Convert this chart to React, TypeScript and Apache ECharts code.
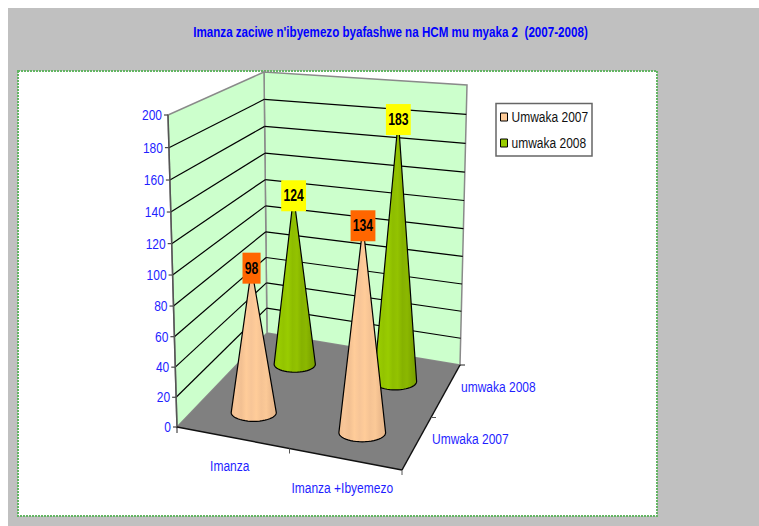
import React, { useEffect, useRef } from "react";
import * as echarts from "echarts";

const titleText = "Imanza zaciwe n'ibyemezo byafashwe na HCM mu myaka 2  (2007-2008)";
const categories = ["Imanza", "Imanza +Ibyemezo"];
const depthNames = ["Umwaka 2007", "umwaka 2008"];
const values2007 = [98, 134];
const values2008 = [124, 183];
const yTicks = [0, 20, 40, 60, 80, 100, 120, 140, 160, 180, 200];

const FONT = '"Liberation Sans", Arial, sans-serif';
const BLUE = "#1f1fff";
const G = { left: 177, top: 115, w: 225, h: 312 };

type P = [number, number];
const C: Record<string, P> = {
  FL0: [177, 427], FR0: [402, 470], BL0: [267, 333], BR0: [460, 365],
  FL1: [168, 115], FR1: [405, 135], BL1: [264, 72], BR1: [467, 85],
};
const mix = (a: P, b: P, t: number): P => [a[0] + (b[0] - a[0]) * t, a[1] + (b[1] - a[1]) * t];
const warp = (v: number) => v / (1.053 - 0.053 * v);
function proj(x: number, v: number, z: number): P {
  const f0 = mix(C.FL0, C.FR0, x), b0 = mix(C.BL0, C.BR0, x);
  const f1 = mix(C.FL1, C.FR1, x), b1 = mix(C.BL1, C.BR1, x);
  return mix(mix(f0, b0, z), mix(f1, b1, z), warp(v));
}
const norm = (p: number[]) => [(p[0] - G.left) / G.w, (G.top + G.h - p[1]) / G.h];
const poly = (points: P[], style: any, z2 = 0) => ({ type: "polygon", shape: { points }, style, z2 });
const line = (a: P, b: P, stroke: string, lineWidth = 1) => ({
  type: "line",
  shape: { x1: a[0], y1: a[1], x2: b[0], y2: b[1] },
  style: { stroke, lineWidth, fill: "none" },
});
const label = (x: number, y: number, text: string, align: string) => ({
  type: "text", x, y, scaleX: 0.8,
  style: { text, fill: BLUE, font: `15px ${FONT}`, align, verticalAlign: "middle" },
});

function stripes(colors: string[]) {
  const stops: any[] = [];
  colors.forEach((c, i) => stops.push({ offset: i / (colors.length - 1), color: c }));
  return new echarts.graphic.LinearGradient(0, 0, 1, 0, stops);
}
const peach = ["#F0BE90", "#F8C698", "#F2C092", "#FFCC99", "#F7C597", "#FFCC99", "#F5C394", "#FBC997", "#EDBB8D", "#E9B88A"];
const green = ["#8FBF00", "#99CC00", "#93C400", "#99CC00", "#8EBD00", "#93C300", "#86B200", "#8BB800", "#7FA800", "#789F00"];

function coneRender(depthIndex: number, fill: any, boxColor: string) {
  return (params: any, api: any) => {
    const c = norm(api.coord([api.value(0), api.value(1)]));
    const z = (depthIndex + 0.5) / depthNames.length;
    const base = proj(c[0], 0, z);
    const apex = proj(c[0], c[1], z);
    const H = base[1] - proj(c[0], 1, z)[1];
    const rx = 0.074 * H;
    const ry = rx * 0.39;
    const cy = base[1] - 1;
    const pts: P[] = [apex];
    for (let i = 0; i <= 24; i++) {
      const a = Math.PI - (Math.PI * i) / 24;
      pts.push([base[0] + rx * Math.cos(a), cy + ry * Math.sin(a)]);
    }
    return {
      type: "group",
      children: [
        poly(pts, { fill, stroke: "#000", lineWidth: 1.2 }),
        {
          type: "text",
          x: apex[0],
          y: apex[1],
          z2: 10,
          scaleX: 0.76,
          style: {
            text: String(api.value(1)),
            fill: "#000",
            font: `bold 16px ${FONT}`,
            align: "center",
            verticalAlign: "middle",
            backgroundColor: boxColor,
            padding: [8, 3, 7, 3],
          },
        },
      ],
    };
  };
}

const legendSwatches = ["#FFCC99", "#99CC00"];

export default function App() {
  const ref = useRef<HTMLDivElement>(null);
  useEffect(() => {
    const chart = echarts.init(ref.current!, null, { renderer: "svg" });
    chart.setOption({
      animation: false,
      graphic: [
        { type: "rect", z: -2, shape: { x: 8, y: 8, width: 751, height: 518 }, style: { fill: "#C0C0C0" } },
        {
          type: "rect", z: -1,
          shape: { x: 18, y: 71, width: 639, height: 445 },
          style: { fill: "#fff", stroke: "#63B563", lineWidth: 2, lineDash: [2, 1] },
        },
        {
          type: "text", z: 1, x: 390.5, y: 32, scaleX: 0.775,
          style: { text: titleText, fill: "#0000ff", font: `bold 15px ${FONT}`, align: "center", verticalAlign: "middle" },
        },
        {
          type: "rect", z: 1,
          shape: { x: 496, y: 103.5, width: 96, height: 52.5 },
          style: { fill: "#fff", stroke: "#666", lineWidth: 1.5 },
        },
        ...depthNames.flatMap((name, i) => [
          {
            type: "rect", z: 1,
            shape: { x: 500.5, y: 113 + i * 26, width: 7, height: 8 },
            style: { fill: legendSwatches[i], stroke: "#000", lineWidth: 1 },
          },
          {
            type: "text", z: 1, x: 511.5, y: 117.5 + i * 26, scaleX: 0.8,
            style: { text: name, fill: "#111", font: `15px ${FONT}`, align: "left", verticalAlign: "middle" },
          },
        ]),
      ],
      grid: { left: G.left, top: G.top, width: G.w, height: G.h },
      xAxis: { type: "category", data: categories, show: false },
      yAxis: { type: "value", min: 0, max: 200, interval: 20, show: false },
      series: [
        {
          name: "walls",
          type: "custom",
          silent: true,
          clip: false,
          data: [[0, 0]],
          renderItem: () => ({
            type: "group",
            children: [
              poly([C.BL0, C.BR0, C.BR1, C.BL1], { fill: "#CCFFCC", stroke: "#8A8A8A", lineWidth: 1.5 }),
              poly([C.FL0, C.BL0, C.BL1, C.FL1], { fill: "#CCFFCC", stroke: "#8A8A8A", lineWidth: 1.5 }),
            ],
          }),
        },
        {
          name: "grid",
          type: "custom",
          silent: true,
          clip: false,
          data: yTicks.map((t) => [0, t]),
          renderItem: (_: any, api: any) => {
            const v = norm(api.coord([0, api.value(1)]))[1];
            const a = proj(0, v, 0), b = proj(0, v, 1), c = proj(1, v, 1);
            return {
              type: "group",
              children: [
                ...(v > 0 && v < 1 ? [line(a, b, "#000", 1.2), line(b, c, "#000", 1.2)] : []),
                line([a[0] - 4, a[1]], a, "#222"),
                label(a[0] - 6, a[1], String(api.value(1)), "right"),
              ],
            };
          },
        },
        {
          name: "floor",
          type: "custom",
          silent: true,
          clip: false,
          data: [[0, 0]],
          renderItem: () => ({
            type: "group",
            children: [
              poly([C.FL0, C.FR0, C.BR0, C.BL0], { fill: "#808080" }),
              line(C.FL1, C.FL0, "#555", 1.5),
              line(C.FL0, C.FR0, "#111", 1.5),
              line(C.FR0, C.BR0, "#111", 1.5),
              line(C.FL0, [C.FL0[0], C.FL0[1] + 6], "#222"),
              line(proj(0.5, 0, 0), [proj(0.5, 0, 0)[0], proj(0.5, 0, 0)[1] + 5], "#555"),
              line(C.FR0, [C.FR0[0], C.FR0[1] + 5], "#555"),
              line(C.BR0, [C.BR0[0] + 5, C.BR0[1]], "#222"),
              line(proj(1, 0, 0.5), [proj(1, 0, 0.5)[0] + 5, proj(1, 0, 0.5)[1]], "#555"),
            ],
          }),
        },
        {
          name: "categoryLabels",
          type: "custom",
          silent: true,
          clip: false,
          data: categories.map((_, i) => [i, 0]),
          renderItem: (_: any, api: any) => {
            const n = norm(api.coord([api.value(0), 0]));
            const p = proj(n[0], 0, 0);
            return label(p[0] - 3.5, p[1] + 28.5, categories[api.value(0)], "center");
          },
        },
        {
          name: "depthLabels",
          type: "custom",
          silent: true,
          clip: false,
          data: depthNames.map((_, i) => [0, i]),
          renderItem: (params: any, api: any) => {
            const p = proj(1, 0, (params.dataIndex + 0.5) / depthNames.length);
            return label(p[0] + 15.5, p[1] - 4.5, depthNames[params.dataIndex], "left");
          },
        },
        {
          name: depthNames[1],
          type: "custom",
          clip: false,
          itemStyle: { color: "#99CC00" },
          data: values2008.map((v, i) => [i, v]),
          renderItem: coneRender(1, stripes(green), "#FFFF00"),
        },
        {
          name: depthNames[0],
          type: "custom",
          clip: false,
          itemStyle: { color: "#FFCC99" },
          data: values2007.map((v, i) => [i, v]),
          renderItem: coneRender(0, stripes(peach), "#FF6600"),
        },
      ],
    });
    return () => chart.dispose();
  }, []);
  return <div ref={ref} style={{ position: "absolute", left: 0, top: 0, width: 759, height: 526 }} />;
}
